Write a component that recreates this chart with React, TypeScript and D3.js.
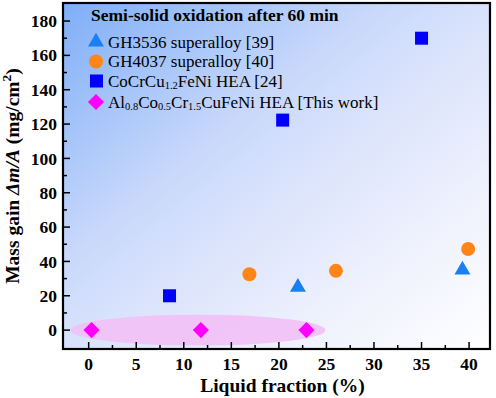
import React, { useEffect, useRef } from "react";
import * as d3 from "d3";

const triX = [22, 39.3];
const triY = [25, 35];
const cirX = [16.9, 26, 39.9];
const cirY = [32.5, 34.5, 47.2];
const sqX = [8.5, 20.4, 35];
const sqY = [20, 122.3, 170];
const diaX = [0.3, 11.8, 22.9];
const diaY = [0, 0, 0];

const xTicks = [0, 5, 10, 15, 20, 25, 30, 35, 40];
const yTicks = [0, 20, 40, 60, 80, 100, 120, 140, 160, 180];

const legendItems = ["GH3536 superalloy [39]", "GH4037 superalloy [40]"];

export default function App() {
  const svgRef = useRef<SVGSVGElement>(null);

  useEffect(() => {
    const width = 496;
    const height = 398;
    const m = { left: 63, right: 6, top: 3, bottom: 49 };
    const svg = d3.select(svgRef.current);
    svg.selectAll("*").remove();
    svg.attr("width", width).attr("height", height).style("display", "block")
      .style("font-family", "'Liberation Serif', 'DejaVu Serif', serif");

    const x = d3.scaleLinear().domain([-2.7, 42.2]).range([m.left, width - m.right]);
    const y = d3.scaleLinear().domain([-11, 190.5]).range([height - m.bottom, m.top]);

    const defs = svg.append("defs");
    const grad = defs.append("linearGradient").attr("id", "bg")
      .attr("x1", "0%").attr("y1", "0%").attr("x2", "100%").attr("y2", "100%");
    grad.append("stop").attr("offset", "0%").attr("stop-color", "#7eaef7");
    grad.append("stop").attr("offset", "37%").attr("stop-color", "#c8d8fb");
    grad.append("stop").attr("offset", "52%").attr("stop-color", "#dae3fc");
    grad.append("stop").attr("offset", "75%").attr("stop-color", "#eef1fd");
    grad.append("stop").attr("offset", "100%").attr("stop-color", "#ffffff");

    const pw = width - m.right - m.left;
    const ph = height - m.bottom - m.top;
    svg.append("rect").attr("x", m.left).attr("y", m.top).attr("width", pw).attr("height", ph)
      .attr("fill", "url(#bg)");

    // highlight ellipse
    svg.append("ellipse")
      .attr("cx", x(11.5)).attr("cy", y(0))
      .attr("rx", x(13.4) - x(0)).attr("ry", y(0) - y(9))
      .attr("fill", "#f2c0f6").attr("opacity", 0.9);

    // ticks (inward)
    const g = svg.append("g").attr("stroke", "#000").attr("stroke-width", 1.5);
    d3.range(0, 42.5, 2.5).forEach((t) => {
      const major = t % 5 === 0;
      g.append("line").attr("x1", x(t)).attr("x2", x(t))
        .attr("y1", height - m.bottom).attr("y2", height - m.bottom - (major ? 7 : 4));
    });
    d3.range(0, 190, 10).forEach((t) => {
      const major = t % 20 === 0;
      g.append("line").attr("y1", y(t)).attr("y2", y(t))
        .attr("x1", m.left).attr("x2", m.left + (major ? 7 : 4));
    });

    svg.append("g").selectAll("text").data(xTicks).join("text")
      .attr("x", (d) => x(d)).attr("y", height - m.bottom + 21)
      .attr("text-anchor", "middle").attr("font-weight", "bold")
      .attr("font-size", 17.5).text((d) => d);
    svg.append("g").selectAll("text").data(yTicks).join("text")
      .attr("x", m.left - 6).attr("y", (d) => y(d)).attr("dy", "0.35em")
      .attr("text-anchor", "end").attr("font-weight", "bold")
      .attr("font-size", 17.5).text((d) => d);

    svg.append("text").attr("x", (m.left + width - m.right) / 2 + 6).attr("y", 392)
      .attr("text-anchor", "middle").attr("font-weight", "bold")
      .attr("font-size", 19.5).text("Liquid fraction (%)");

    const yl = svg.append("text")
      .attr("transform", `translate(19, ${(m.top + height - m.bottom) / 2}) rotate(-90)`)
      .attr("text-anchor", "middle").attr("font-weight", "bold")
      .attr("font-size", 19.5);
    yl.append("tspan").text("Mass gain ");
    yl.append("tspan").attr("font-style", "italic").text("\u0394m/A");
    yl.append("tspan").text(" (mg/cm");
    yl.append("tspan").attr("dy", -8).attr("font-size", 13.5).text("2");
    yl.append("tspan").attr("dy", 8).text(")");

    // markers
    const tri = d3.symbol().type(d3.symbolTriangle).size(110);
    const dia = d3.symbol().type(d3.symbolSquare).size(130);
    const plot = svg.append("g");
    plot.selectAll(".tri").data(triX).join("path")
      .attr("transform", (d, i) => `translate(${x(d)},${y(triY[i])})`)
      .attr("d", tri).attr("fill", "#1a7ff0");
    plot.selectAll(".cir").data(cirX).join("circle")
      .attr("cx", (d) => x(d)).attr("cy", (d, i) => y(cirY[i])).attr("r", 7)
      .attr("fill", "#ff8519");
    plot.selectAll(".sq").data(sqX).join("rect")
      .attr("x", (d) => x(d) - 6.5).attr("y", (d, i) => y(sqY[i]) - 6.5)
      .attr("width", 13).attr("height", 13).attr("fill", "#0000ff");
    plot.selectAll(".dia").data(diaX).join("path")
      .attr("transform", (d, i) => `translate(${x(d)},${y(diaY[i])}) rotate(45)`)
      .attr("d", dia).attr("fill", "#ff00ff");

    // legend
    const lg = svg.append("g").attr("fill", "#000");
    lg.append("text").attr("x", 91).attr("y", 21).attr("font-weight", "bold")
      .attr("font-size", 17.5).text("Semi-solid oxidation after 60 min");
    const rowY = [42, 61.5, 81, 102];
    const tx = 108;
    lg.append("path").attr("transform", `translate(96,${rowY[0]})`).attr("d", tri).attr("fill", "#1a7ff0");
    lg.append("circle").attr("cx", 96).attr("cy", rowY[1]).attr("r", 7).attr("fill", "#ff8519");
    lg.append("rect").attr("x", 90).attr("y", rowY[2] - 6.5).attr("width", 13).attr("height", 13).attr("fill", "#0000ff");
    lg.append("path").attr("transform", `translate(96,${rowY[3]}) rotate(45)`).attr("d", dia).attr("fill", "#ff00ff");

    const fs = 17;
    lg.append("text").attr("x", tx).attr("y", rowY[0] + 5.5).attr("font-size", fs).text(legendItems[0]);
    lg.append("text").attr("x", tx).attr("y", rowY[1] + 5.5).attr("font-size", fs).text(legendItems[1]);

    const sub = (t: d3.Selection<SVGTextElement, unknown, null, undefined>, parts: [string, string][]) => {
      parts.forEach(([s, kind]) => {
        if (kind === "sub") {
          t.append("tspan").attr("dy", 2.5).attr("font-size", 10.5).text(s);
        } else {
          t.append("tspan").attr("dy", kind === "after" ? -2.5 : 0).text(s);
        }
      });
    };
    const t3 = lg.append("text").attr("x", tx).attr("y", rowY[2] + 5.5).attr("font-size", fs);
    sub(t3, [["CoCrCu", "n"], ["1.2", "sub"], ["FeNi HEA [24]", "after"]]);
    const t4 = lg.append("text").attr("x", tx).attr("y", rowY[3] + 5.5).attr("font-size", fs);
    sub(t4, [["Al", "n"], ["0.8", "sub"], ["Co", "after"], ["0.5", "sub"], ["Cr", "after"], ["1.5", "sub"], ["CuFeNi HEA [This work]", "after"]]);

    // frame
    svg.append("rect").attr("x", m.left).attr("y", m.top).attr("width", pw).attr("height", ph)
      .attr("fill", "none").attr("stroke", "#000").attr("stroke-width", 2.2);
  }, []);

  return (
    <div style={{ position: "absolute", left: 0, top: 0 }}>
      <svg ref={svgRef}></svg>
    </div>
  );
}
